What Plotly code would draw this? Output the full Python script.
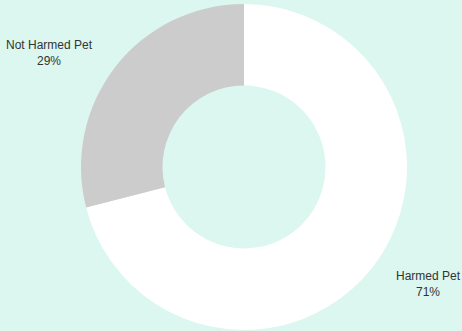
import plotly.graph_objects as go

labels = ["Harmed Pet", "Not Harmed Pet"]
values = [71, 29]
colors = ["#ffffff", "#cccccc"]

fig = go.Figure(go.Pie(
    labels=labels,
    values=values,
    hole=0.5,
    sort=False,
    direction="clockwise",
    rotation=0,
    marker=dict(colors=colors, line=dict(width=0)),
    textinfo="none",
    hoverinfo="label+percent",
    showlegend=False,
))

W, H = 462, 331
ml, mr, mt, mb = 81, 55, 4, 1
pw, ph = W - ml - mr, H - mt - mb

def px(x):
    return (x - ml) / pw

def py(y):
    return 1 - (y - mt) / ph

label_pos = {"Harmed Pet": (428, 284), "Not Harmed Pet": (49, 53)}
total = sum(values)
for lab, v in zip(labels, values):
    x, y = label_pos[lab]
    fig.add_annotation(
        x=px(x), y=py(y), xref="paper", yref="paper",
        text=f"{lab}<br>{round(100 * v / total)}%",
        showarrow=False, xanchor="center", yanchor="middle",
        font=dict(family="Liberation Sans, Arial, sans-serif", size=12, color="#333333"),
        align="center",
    )

fig.update_layout(
    width=W, height=H,
    margin=dict(l=ml, r=mr, t=mt, b=mb),
    paper_bgcolor="#dbf7ef",
    plot_bgcolor="#dbf7ef",
)

fig.write_html(
    "out.html",
    config={"displayModeBar": False},
    post_script="document.body.style.margin='0';document.body.style.overflow='hidden';",
)
